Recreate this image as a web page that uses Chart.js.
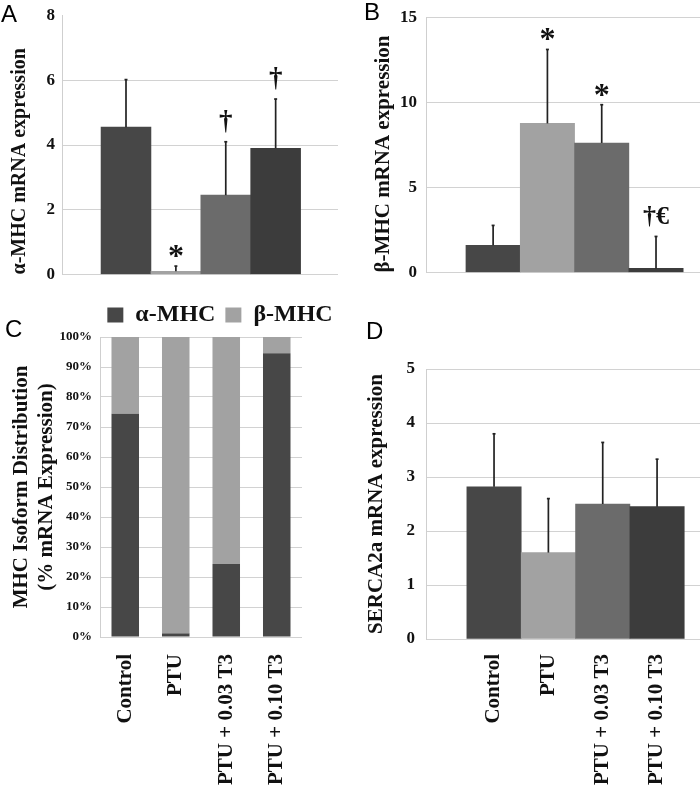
<!DOCTYPE html>
<html><head><meta charset="utf-8">
<script src="https://cdn.jsdelivr.net/npm/chart.js@4.4.1/dist/chart.umd.min.js"></script>
<style>
html,body{margin:0;padding:0;background:#fff;overflow:hidden;width:700px;height:788px;position:relative;}
canvas{position:absolute;display:block;}
.letter{position:absolute;font-family:"Liberation Sans",Arial,sans-serif;font-size:24px;line-height:24px;color:#000;}
</style></head><body>
<canvas id="cA" width="350" height="290" style="left:0;top:0"></canvas>
<canvas id="cB" width="350" height="290" style="left:350px;top:0"></canvas>
<canvas id="cC" width="440" height="498" style="left:0;top:290px"></canvas>
<canvas id="cD" width="350" height="498" style="left:350px;top:290px"></canvas>
<div class="letter" style="left:1px;top:2px">A</div>
<div class="letter" style="left:364px;top:0px">B</div>
<div class="letter" style="left:5px;top:317px">C</div>
<div class="letter" style="left:366px;top:319px">D</div>
<script>
// ---- data ----
const groups = ['Control', 'PTU', 'PTU + 0.03 T3', 'PTU + 0.10 T3'];
const alphaMean = [4.55, 0.10, 2.45, 3.90];
const alphaErr  = [1.47, 0.16, 1.65, 1.52];
const alphaSig  = ['', '*', '†', '†'];
const betaMean  = [1.60, 8.77, 7.62, 0.24];
const betaErr   = [1.17, 4.35, 2.25, 1.88];
const betaSig   = ['', '*', '*', '†€'];
const alphaPct  = [74.4, 1.2, 24.3, 94.6];
const betaPct   = [25.6, 98.8, 75.7, 5.4];
const sercaMean = [2.82, 1.60, 2.50, 2.45];
const sercaErr  = [0.98, 1.00, 1.14, 0.88];
const seriesNames = ['α-MHC', 'β-MHC'];

// ---- style ----
const SERIF = '"Liberation Serif","Times New Roman",Times,serif';
const barColors = ['#474747', '#a2a2a2', '#6b6b6b', '#3c3c3c'];
const GRID = '#d2d2d2';
const sigSize = {'*': 32, '†': 27, '†€': 26};

const errPlugin = {
  id: 'errbars',
  afterDatasetsDraw(chart) {
    const ctx = chart.ctx, ys = chart.scales.y;
    chart.data.datasets.forEach((ds, di) => {
      if (!ds.errUp) return;
      const meta = chart.getDatasetMeta(di);
      meta.data.forEach((bar, i) => {
        const v = ds.data[i].y;
        const top = ys.getPixelForValue(v + ds.errUp[i]);
        ctx.save();
        ctx.strokeStyle = '#222'; ctx.lineWidth = 1.7;
        ctx.beginPath(); ctx.moveTo(bar.x, bar.y); ctx.lineTo(bar.x, top); ctx.stroke();
        ctx.beginPath(); ctx.moveTo(bar.x - 1.5, top); ctx.lineTo(bar.x + 1.5, top); ctx.stroke();
        const s = ds.sig && ds.sig[i];
        if (s) {
          ctx.font = 'bold ' + (sigSize[s] || 26) + 'px ' + SERIF;
          ctx.textAlign = 'center'; ctx.textBaseline = 'alphabetic';
          const m = ctx.measureText(s);
          ctx.fillStyle = '#111';
          ctx.fillText(s, bar.x, top - 9 - m.actualBoundingBoxDescent);
        }
        ctx.restore();
      });
    });
  }
};

const fixTicks = s => { s.ticks = [0, 1, 2, 3].map(v => ({value: v})); };

function yScale(o) {
  return {
    min: o.min, max: o.max,
    ticks: {stepSize: o.step, padding: o.tickPad, color: '#111',
      font: {family: SERIF, weight: 'bold', size: o.tickSize || 17, lineHeight: 1},
      callback: o.cb || (v => v)},
    grid: {color: o.gridColor || GRID, drawTicks: false, lineWidth: 1},
    border: {color: '#cfcfcf'},
    title: {display: true, text: o.title, align: o.align || 'center', color: '#111',
      font: {family: SERIF, weight: 'bold', size: o.titleSize || 21, lineHeight: 1.2},
      padding: {top: o.titlePad, bottom: 0}},
    afterFit: s => { s.width = o.width; }
  };
}

function barPanel(id, mean, err, sig, o) {
  return new Chart(document.getElementById(id), {
    type: 'bar',
    data: {datasets: [{
      data: mean.map((v, i) => ({x: i, y: v})),
      backgroundColor: barColors, borderWidth: 0,
      barPercentage: 1, categoryPercentage: 1,
      errUp: err, sig: sig
    }]},
    options: {
      responsive: false, animation: false,
      layout: {padding: o.padding},
      plugins: {legend: {display: false}, tooltip: {enabled: false}},
      scales: {
        x: {type: 'linear', offset: false, min: o.xmin, max: o.xmax,
          display: !!o.showLabels,
          afterBuildTicks: fixTicks,
          grid: {display: false}, border: {display: false},
          ticks: {autoSkip: false, minRotation: 90, maxRotation: 90, padding: 7, color: '#111',
            font: {family: SERIF, weight: 'bold', size: 21, lineHeight: 1.2},
            callback: v => groups[v] !== undefined ? groups[v] : ''},
          afterFit: s => { if (o.xHeight) s.height = o.xHeight; }},
        y: yScale(o.y)
      }
    },
    plugins: [errPlugin]
  });
}

// Panel A
barPanel('cA', alphaMean, alphaErr, alphaSig, {
  padding: {top: 9, right: 12, bottom: 11, left: 0},
  xmin: -1.283, xmax: 4.25,
  y: {min: 0, max: 8, step: 2, tickPad: 7, title: 'α-MHC mRNA expression', align: 'start',
      titlePad: 8, width: 62, titleSize: 20,
      gridColor: c => (c.tick && c.tick.value === 8) ? 'rgba(0,0,0,0)' : GRID}
});

// Panel B
barPanel('cB', betaMean, betaErr, betaSig, {
  padding: {top: 9, right: 0, bottom: 11, left: 0},
  xmin: -1.236, xmax: 3.81,
  y: {min: 0, max: 15, step: 5, tickPad: 9, title: 'β-MHC mRNA expression', align: 'start',
      titlePad: 21, width: 76}
});

// Panel D
barPanel('cD', sercaMean, sercaErr, null, {
  padding: {top: 79, right: 0, bottom: 0, left: 0},
  xmin: -1.252, xmax: 3.79, showLabels: true, xHeight: 149,
  y: {min: 0, max: 5, step: 1, tickPad: 11, title: 'SERCA2a mRNA expression',
      titlePad: 14, width: 76}
});

// Panel C
new Chart(document.getElementById('cC'), {
  type: 'bar',
  data: {labels: groups, datasets: [
    {label: seriesNames[0], data: alphaPct, backgroundColor: barColors[0], borderWidth: 0,
     barPercentage: 0.545, categoryPercentage: 1},
    {label: seriesNames[1], data: betaPct, backgroundColor: barColors[1], borderWidth: 0,
     barPercentage: 0.545, categoryPercentage: 1}
  ]},
  options: {
    responsive: false, animation: false,
    layout: {padding: {top: 3, right: 0, bottom: 0, left: 0}},
    plugins: {
      tooltip: {enabled: false},
      legend: {position: 'top', align: 'center',
        labels: {boxWidth: 16, boxHeight: 15, padding: 10, color: '#111',
          font: {family: SERIF, weight: 'bold', size: 24}}}
    },
    scales: {
      x: {stacked: true, grid: {display: false}, border: {display: false},
        ticks: {autoSkip: false, minRotation: 90, maxRotation: 90, padding: 9, color: '#111',
          font: {family: SERIF, weight: 'bold', size: 21, lineHeight: 1.2}},
        afterFit: s => { s.height = 151; }},
      y: Object.assign(yScale({min: 0, max: 100, step: 10, tickPad: 8, tickSize: 13,
          title: ['MHC Isoform Distribution', '(% mRNA Expression)'], titlePad: 9, width: 100,
          cb: v => v + '%'}), {stacked: true}),
      yR: {position: 'right', display: true, grid: {display: false}, border: {display: false},
        ticks: {display: false}, afterFit: s => { s.width = 138; }}
    }
  }
});
</script>
</body></html>
